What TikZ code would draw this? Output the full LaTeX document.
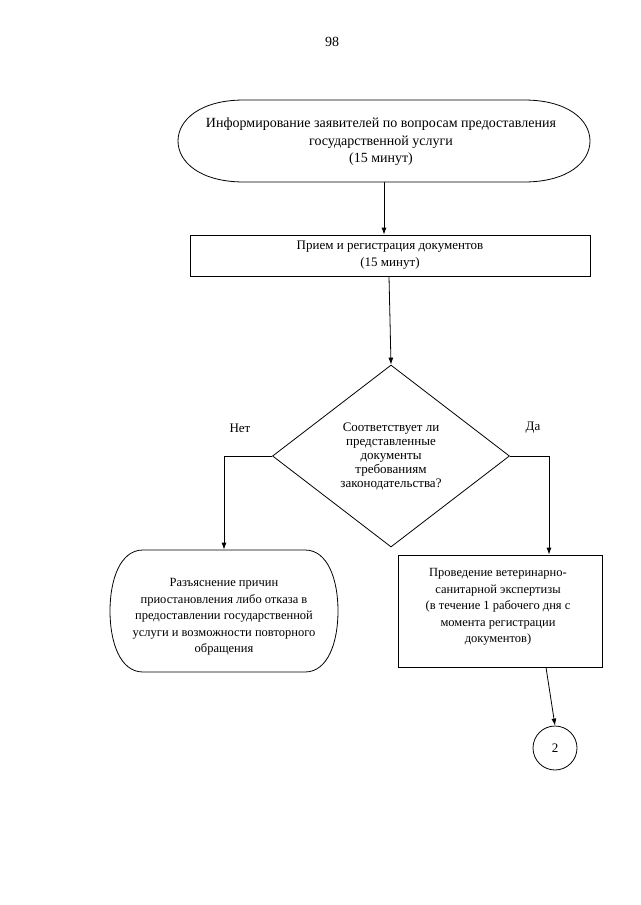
\documentclass[tikz,border=0pt]{standalone}
\usepackage{fontspec}
\setmainfont{Liberation Serif}
\usetikzlibrary{arrows.meta,positioning,shapes.geometric}

\begin{document}
\begin{tikzpicture}[x=1pt,y=-1pt,
    line width=0.8pt,
    capsule/.style={rectangle, align=center, inner sep=0pt},
    procbox/.style={draw, rectangle, align=center, inner sep=2pt},
    choice/.style={draw, diamond, align=center, inner sep=0pt},
    joint/.style={draw, circle, minimum size=44pt, inner sep=0pt},
    bigtext/.style={font=\fontsize{14}{17.5}\selectfont},
    smalltext/.style={font=\fontsize{12.5}{16.5}\selectfont},
    flow/.style={-{Latex[length=7pt,width=5pt]}}]
    \useasboundingbox (0,0) rectangle (640,905);

    \node[bigtext] (page) at (332,42) {98};

    % start: informing
    \node[capsule, bigtext, minimum width=412pt, minimum height=82pt] (inform) at (381,142)
        {Информирование заявителей по вопросам предоставления\\
         государственной услуги\\
         (15 минут)};
    \draw (244,100) -- (524,100) .. controls (568,100) and (590,120) .. (590,141)
        .. controls (590,162) and (568,182) .. (524,182) -- (244,182)
        .. controls (200,182) and (178,162) .. (178,141)
        .. controls (178,120) and (200,100) .. (244,100) -- cycle;
    \coordinate (informout) at (384,182);

    \node[procbox, font=\fontsize{13}{17}\selectfont, minimum width=400pt, minimum height=41pt] (reg) at (390,255.5)
        {Прием и регистрация документов\\
         (15 минут)};

    \node[choice, font=\fontsize{13}{14}\selectfont, minimum width=237pt, minimum height=182pt] (check) at (391,456)
        {Соответствует ли\\
         представленные\\
         документы\\
         требованиям\\
         законодательства?};
    \node[font=\fontsize{13}{15}\selectfont] (no) at (240,428) {Нет};
    \node[font=\fontsize{13}{15}\selectfont] (yes) at (533,428) {Да};

    % end: refusal
    \node[capsule, smalltext, minimum width=228pt, minimum height=134pt] (refuse) at (224,617)
        {Разъяснение причин\\
         приостановления либо отказа в\\
         предоставлении государственной\\
         услуги и возможности повторного\\
         обращения};
    \draw (143,550) -- (305,550) .. controls (328,550) and (338,580) .. (338,611)
        .. controls (338,642) and (328,672) .. (305,672) -- (143,672)
        .. controls (120,672) and (110,642) .. (110,611)
        .. controls (110,580) and (120,550) .. (143,550) -- cycle;

    \node[procbox, minimum width=204pt, minimum height=112pt] (exam) at (500,611) {};
    \node[smalltext, align=center] (examtext) at (498,607)
        {Проведение ветеринарно-\\
         санитарной экспертизы\\
         (в течение 1 рабочего дня с\\
         момента регистрации\\
         документов)};
    \node[joint, font=\fontsize{13}{15}\selectfont] (next) at (555,748) {2};

    \draw[flow] (informout) -- (reg.north -| informout);
    \draw[flow] (reg.south -| 389,0) -- (check.north);
    \draw[flow] (check.west) -| (refuse.north);
    \draw[flow] (check.east) -| (exam.north -| 549,0);
    \draw[flow] (exam.south -| 546,0) -- (next.north);
  \end{tikzpicture}
\end{document}
